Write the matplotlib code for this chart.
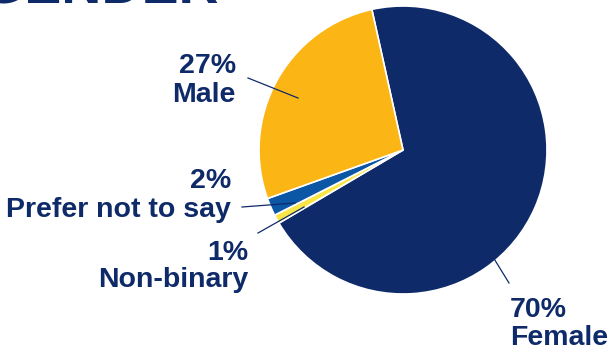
import matplotlib
matplotlib.use('Agg')
import matplotlib.pyplot as plt

# Gender breakdown
labels = ['Female', 'Non-binary', 'Prefer not to say', 'Male']
shares = [70, 1, 2, 27]
colors = ['#0f2a69', '#f9e547', '#0c56a6', '#fbb616']

navy = '#0f2a69'
W, H = 612, 352

fig = plt.figure(figsize=(W / 100, H / 100), dpi=100)
ax = fig.add_axes([0, 0, 1, 1])

# pie in pixel space (y measured up from the bottom)
ax.pie(shares, colors=colors, startangle=102.5, counterclock=False,
       center=(403, H - 150), radius=144,
       wedgeprops=dict(edgecolor='white', linewidth=1.2))
ax.set_xlim(0, W)
ax.set_ylim(0, H)
ax.set_aspect('equal')
ax.axis('off')

font = dict(family='Liberation Sans', weight='bold', color=navy, fontsize=20.5)

def label(x, y_pct, y_name, pct, name, ha):
    ax.text(x, H - y_pct, pct, ha=ha, va='baseline', **font)
    ax.text(x, H - y_name, name, ha=ha, va='baseline', **font)

label(236, 73, 102, '27%', 'Male', 'right')
label(231, 188, 217, '2%', 'Prefer not to say', 'right')
label(248, 260, 287, '1%', 'Non-binary', 'right')
label(510, 317, 345, '70%', 'Female', 'left')

# leader lines
leaders = [((248, 78), (298, 98)),
           ((242, 207), (295, 203)),
           ((258, 233), (304, 207)),
           ((509, 283), (493, 257))]
for (x0, y0), (x1, y1) in leaders:
    ax.plot([x0, x1], [H - y0, H - y1], color=navy, lw=0.9)

# section title, mostly cut off at the top edge
ax.text(-18, H - 3, 'GENDER', ha='left', va='baseline', family='Liberation Sans',
        weight='bold', color=navy, fontsize=40)

fig.savefig('out.png', dpi=100)
